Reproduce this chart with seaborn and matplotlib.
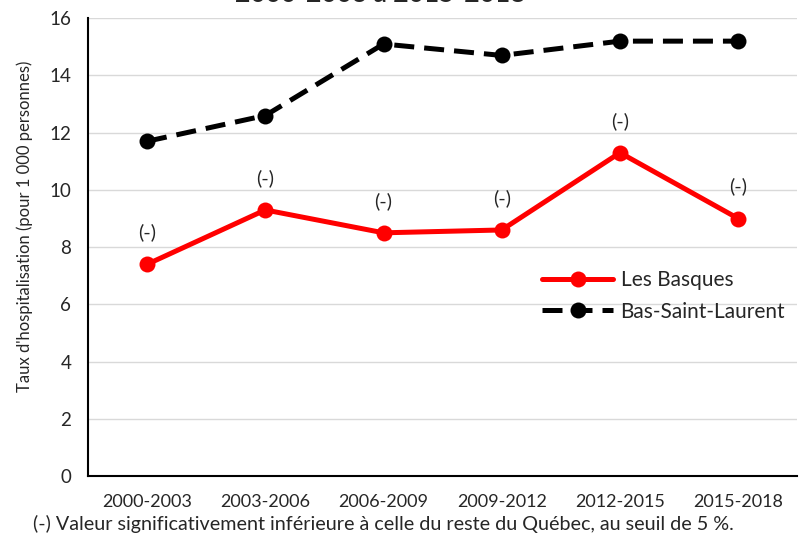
import numpy as np
import pandas as pd
import matplotlib.pyplot as plt
import seaborn as sns

periods = ["2000-2003", "2003-2006", "2006-2009", "2009-2012", "2012-2015", "2015-2018"]
basques = [7.4, 9.3, 8.5, 8.6, 11.3, 9.0]
bsl = [11.7, 12.6, 15.1, 14.7, 15.2, 15.2]
basques_notes = ["(-)", "(-)", "(-)", "(-)", "(-)", "(-)"]

sns.set_theme(style="whitegrid")
plt.rcParams["font.family"] = ["Lato", "DejaVu Sans"]

fig = plt.figure(figsize=(8.07, 5.37), dpi=100)
ax = fig.add_axes([0.109, 0.1136, 0.879, 0.8524])

df = pd.DataFrame({"period": periods, "Les Basques": basques, "Bas-Saint-Laurent": bsl})
x = np.arange(len(periods))

# red solid series, black dashed series
sns.lineplot(x=x, y=df["Les Basques"], ax=ax, color="#ff0000", lw=3.6,
             marker="o", markersize=11.5, markeredgewidth=0, label="Les Basques")
sns.lineplot(x=x, y=df["Bas-Saint-Laurent"], ax=ax, color="black", lw=3.6,
             marker="o", markersize=11.5, markeredgewidth=0, label="Bas-Saint-Laurent")
ax.lines[1].set_dashes((4, 2))

for xi, yi, note in zip(x, basques, basques_notes):
    ax.annotate(note, (xi, yi), xytext=(0, 23), textcoords="offset points",
                ha="center", va="center", fontsize=14.5)

ax.set_xlim(-0.5, len(periods) - 0.5)
ax.set_ylim(0, 16)
ax.set_yticks(range(0, 17, 2))
ax.set_xticks(x)
ax.set_xticklabels(periods, fontsize=13)
ax.set_xticks(np.arange(-0.5, len(periods)), minor=True)
ax.tick_params(axis="x", which="major", length=0, pad=13)
ax.tick_params(axis="x", which="minor", direction="inout", length=10, width=1.2, color="black")
ax.tick_params(axis="y", length=0, labelsize=13.5, pad=12)
ax.grid(axis="x", visible=False)
ax.grid(axis="y", color="#d9d9d9", lw=1)
for side in ["top", "right"]:
    ax.spines[side].set_visible(False)
for side in ["left", "bottom"]:
    ax.spines[side].set_color("black")
    ax.spines[side].set_linewidth(1.5)
ax.set_xlabel("")
ax.set_ylabel("Taux d'hospitalisation (pour 1 000 personnes)", fontsize=12)
ax.yaxis.set_label_coords(-0.078, 0.546)

leg = ax.legend(loc="center left", bbox_to_anchor=(0.626, 0.393), frameon=False,
                borderpad=0, fontsize=15, handlelength=3.4, labelspacing=0.54,
                handletextpad=0.35)
leg.get_lines()[1].set_dashes((4, 2))

# title sits above the top edge, only its lower part shows
fig.text(0.471, 1 - 2 / 537, "2000-2003 à 2015-2018", ha="center", va="baseline",
         fontsize=19, fontweight="bold")
fig.text(33 / 807, 1 - 530 / 537,
         "(-) Valeur significativement inférieure à celle du reste du Québec, au seuil de 5 %.",
         ha="left", va="baseline", fontsize=14.2)

fig.savefig("out.png", dpi=100, facecolor="white")
